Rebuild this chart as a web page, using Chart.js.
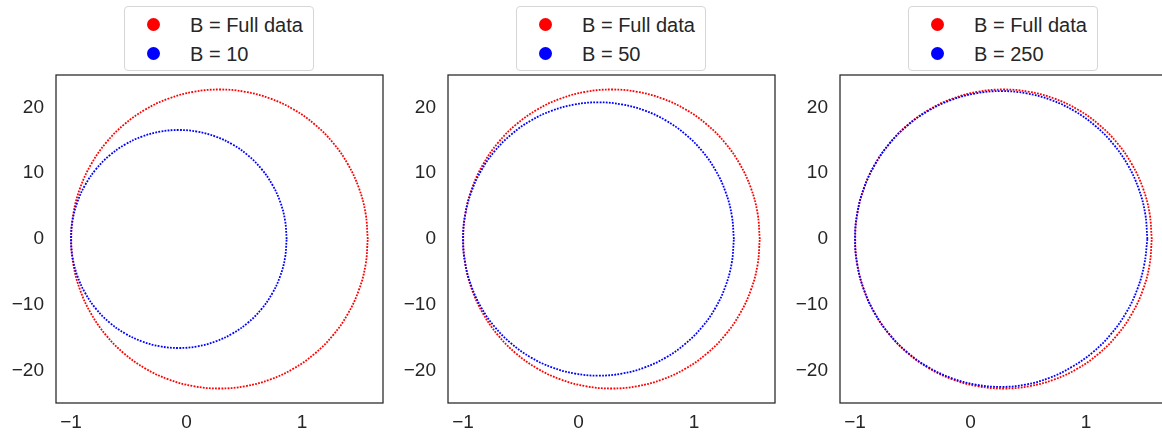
<!DOCTYPE html>
<html>
<head>
<meta charset="utf-8">
<script src="https://cdn.jsdelivr.net/npm/chart.js@4"></script>
<style>
  html, body { margin: 0; padding: 0; background: #fff; }
  body { width: 1162px; height: 434px; overflow: hidden; position: relative; font-family: "Liberation Sans", Arial, sans-serif; }
  .panel { position: absolute; top: 0; width: 392px; height: 434px; }
  .panel canvas { position: absolute; left: 0; top: 0; }
  .legend {
    position: absolute; top: 6px; width: 188px; height: 63px;
    border: 1px solid #d6d6d6; border-radius: 4px; background: #fff;
  }
  .item { position: absolute; left: 0; height: 28px; line-height: 28px; font-size: 20px; color: #262626; }
  .item .dot { position: absolute; left: 22px; top: 7px; width: 13px; height: 13px; border-radius: 50%; }
  .item span { position: absolute; left: 65px; white-space: nowrap; }
</style>
</head>
<body>

<script>
// axis ticks
const xTicks = [-1, 0, 1];
const yTicks = [-20, -10, 0, 10, 20];

const legendFull = "B = Full data";
const legendB = ["B = 10", "B = 50", "B = 250"];

// full-data ellipse
const fullX = [1.568,1.549,1.491,1.396,1.268,1.110,0.927,0.724,0.508,0.285,
  0.062,-0.154,-0.357,-0.540,-0.698,-0.826,-0.921,-0.979,-0.998,
  -0.979,-0.921,-0.826,-0.698,-0.540,-0.357,-0.154,0.062,0.285,
  0.508,0.724,0.927,1.110,1.268,1.396,1.491,1.549,1.568];
const fullY = [0,3.94,7.76,11.35,14.59,17.39,19.66,21.33,22.35,22.7,
  22.35,21.33,19.66,17.39,14.59,11.35,7.76,3.94,0,
  -3.94,-7.76,-11.35,-14.59,-17.39,-19.66,-21.33,-22.35,-22.7,
  -22.35,-21.33,-19.66,-17.39,-14.59,-11.35,-7.76,-3.94,0];

// B = 10
const b10X = [0.866,0.852,0.810,0.741,0.648,0.533,0.400,0.252,0.095,-0.067,
  -0.229,-0.386,-0.534,-0.667,-0.782,-0.875,-0.944,-0.986,-1.000,
  -0.986,-0.944,-0.875,-0.782,-0.667,-0.534,-0.386,-0.229,-0.067,
  0.095,0.252,0.400,0.533,0.648,0.741,0.810,0.852,0.866];
const b10Y = [0,2.87,5.66,8.28,10.64,12.68,14.33,15.55,16.30,16.55,
  16.30,15.55,14.33,12.68,10.64,8.28,5.66,2.87,0,
  -2.87,-5.66,-8.28,-10.64,-12.68,-14.33,-15.55,-16.30,-16.55,
  -16.30,-15.55,-14.33,-12.68,-10.64,-8.28,-5.66,-2.87,0];

// B = 50
const b50X = [1.344,1.326,1.273,1.187,1.070,0.925,0.758,0.573,0.375,0.172,
  -0.031,-0.229,-0.414,-0.581,-0.726,-0.843,-0.929,-0.982,-1.000,
  -0.982,-0.929,-0.843,-0.726,-0.581,-0.414,-0.229,-0.031,0.172,
  0.375,0.573,0.758,0.925,1.070,1.187,1.273,1.326,1.344];
const b50Y = [0,3.60,7.10,10.38,13.34,15.89,17.97,19.50,20.43,20.75,
  20.43,19.50,17.97,15.89,13.34,10.38,7.10,3.60,0,
  -3.60,-7.10,-10.38,-13.34,-15.89,-17.97,-19.50,-20.43,-20.75,
  -20.43,-19.50,-17.97,-15.89,-13.34,-10.38,-7.10,-3.60,0];

// B = 250
const b250X = [1.530,1.511,1.454,1.361,1.234,1.078,0.898,0.698,0.485,0.265,
  0.045,-0.168,-0.368,-0.548,-0.704,-0.831,-0.924,-0.981,-1.000,
  -0.981,-0.924,-0.831,-0.704,-0.548,-0.368,-0.168,0.045,0.265,
  0.475,0.680,0.875,1.058,1.215,1.345,1.442,1.503,1.530];
const b250Y = [0,3.90,7.68,11.23,14.43,17.20,19.44,21.10,22.11,22.45,
  22.11,21.10,19.44,17.20,14.43,11.23,7.68,3.90,0,
  -3.90,-7.68,-11.23,-14.43,-17.20,-19.44,-21.10,-22.11,-22.45,
  -22.11,-21.10,-19.44,-17.20,-14.43,-11.23,-7.68,-3.90,0];

const blueX = [b10X, b50X, b250X];
const blueY = [b10Y, b50Y, b250Y];

const FONT = { family: '"Liberation Sans", Arial, sans-serif', size: 19 };
const TEXT = "#262626";

function toPoints(xs, ys) {
    return xs.map((x, i) => ({ x: x, y: ys[i] }));
}

function minus(v) {
    return String(v).replace("-", "\u2212");
}

const framePlugin = {
    id: "frame",
    afterDraw(chart) {
        const a = chart.chartArea;
        const ctx = chart.ctx;
        ctx.save();
        ctx.strokeStyle = TEXT;
        ctx.lineWidth = 1.25;
        ctx.strokeRect(a.left, a.top, a.right - a.left, a.bottom - a.top);
        ctx.restore();
    }
};

function addLegend(panel, label) {
    const box = document.createElement("div");
    box.className = "legend";
    box.style.left = "124px";
    const rows = [[legendFull, "#ff0000", 4], [label, "#0000ff", 33]];
    rows.forEach(r => {
        const it = document.createElement("div");
        it.className = "item";
        it.style.top = r[2] + "px";
        it.innerHTML = '<div class="dot" style="background:' + r[1] + '"></div><span></span>';
        it.querySelector("span").textContent = r[0];
        box.appendChild(it);
    });
    panel.appendChild(box);
}

function makePanel(i) {
    const panel = document.createElement("div");
    panel.className = "panel";
    panel.style.left = (i * 392) + "px";
    const canvas = document.createElement("canvas");
    canvas.width = 392;
    canvas.height = 434;
    panel.appendChild(canvas);
    document.body.appendChild(panel);
    addLegend(panel, legendB[i]);

    const line = {
        showLine: true,
        borderWidth: 1.8,
        borderDash: [1.8, 1.3],
        tension: 0.4,
        pointRadius: 0
    };

    new Chart(canvas, {
        type: "scatter",
        data: {
            datasets: [
                Object.assign({
                    label: legendFull,
                    data: toPoints(fullX, fullY),
                    borderColor: "#ff0000",
                    order: 2
                }, line),
                Object.assign({
                    label: legendB[i],
                    data: toPoints(blueX[i], blueY[i]),
                    borderColor: "#0000ff",
                    order: 1
                }, line)
            ]
        },
        options: {
            responsive: false,
            animation: false,
            layout: { padding: { top: 75, right: 9, left: 0, bottom: 0 } },
            plugins: { legend: { display: false }, tooltip: { enabled: false } },
            scales: {
                x: {
                    type: "linear",
                    min: -1.13,
                    max: 1.70,
                    grid: { display: false, drawTicks: false },
                    border: { display: false },
                    afterBuildTicks: s => { s.ticks = xTicks.map(v => ({ value: v })); },
                    afterFit: s => { s.height = 31; },
                    ticks: { font: FONT, color: TEXT, padding: 8, maxRotation: 0, callback: v => minus(v) }
                },
                y: {
                    type: "linear",
                    min: -24.9,
                    max: 24.9,
                    grid: { display: false, drawTicks: false },
                    border: { display: false },
                    afterBuildTicks: s => { s.ticks = yTicks.map(v => ({ value: v })); },
                    afterFit: s => { s.width = 56; },
                    ticks: { font: FONT, color: TEXT, padding: 12, callback: v => minus(v) }
                }
            }
        },
        plugins: [framePlugin]
    });
}

[0, 1, 2].forEach(makePanel);
</script>
</body>
</html>
